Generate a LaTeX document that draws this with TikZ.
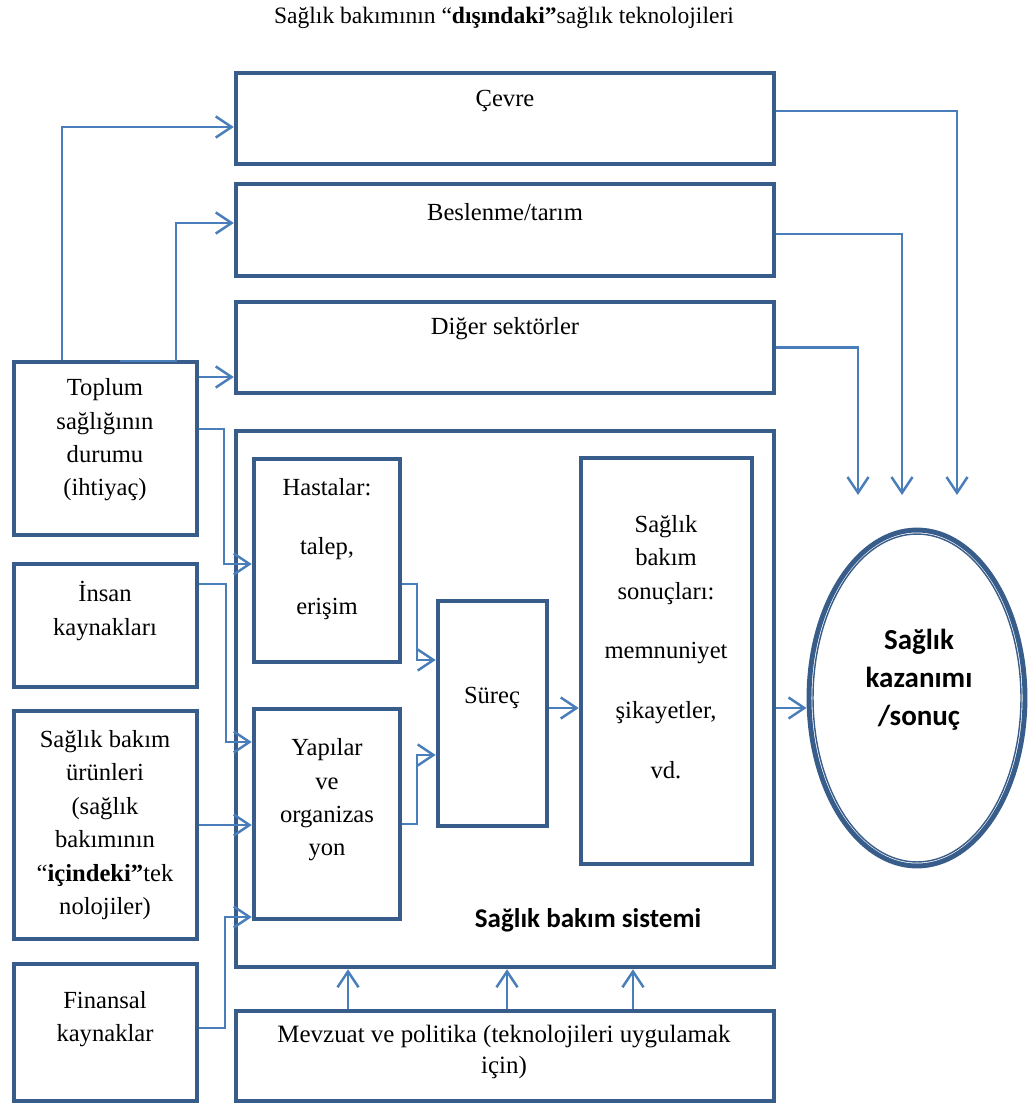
\documentclass[tikz,border=0pt]{standalone}
\usepackage{fontspec}
\setmainfont{Liberation Serif}
\newfontfamily\calibri{Carlito}
\usepackage{xcolor}
\usepackage{tikz}
\usetikzlibrary{positioning, shapes.geometric, arrows.meta}
\definecolor{boxblue}{RGB}{56,93,138}
\definecolor{lineblue}{RGB}{74,126,187}

\begin{document}
\begin{tikzpicture}[x=0.02cm, y=-0.02cm]
	\tikzstyle{box}=[rectangle, draw=boxblue, line width=2.6pt, inner sep=0pt]
	\tikzstyle{txt}=[align=center, font=\fontsize{14}{19}\selectfont, inner sep=0pt]
	\tikzstyle{conn}=[draw=lineblue, line width=1.4pt, -{Straight Barb[length=9pt,width=12pt]}]
	\useasboundingbox (0,0) rectangle (1028,1106);
	\node[txt, font=\fontsize{13.4}{15}\selectfont] (baslik) at (504,18) {Sağlık bakımının “\textbf{dışındaki”}sağlık teknolojileri};
	\node[box, minimum width=10.76cm, minimum height=1.82cm] (cevre) at (505,118.5) {};
	\node[box, minimum width=10.76cm, minimum height=1.84cm] (beslenme) at (505,230) {};
	\node[box, minimum width=10.76cm, minimum height=1.82cm] (diger) at (505,347.5) {};
	\node[box, minimum width=10.76cm, minimum height=10.72cm] (sistem) at (505,699) {};
	\node[box, minimum width=10.76cm, minimum height=1.8cm] (mevzuat) at (505,1056) {};
	\node[box, minimum width=3.66cm, minimum height=3.46cm] (toplum) at (105.5,448.5) {};
	\node[box, minimum width=3.66cm, minimum height=2.46cm] (insan) at (105.5,625.5) {};
	\node[box, minimum width=3.66cm, minimum height=4.56cm] (urunler) at (105.5,825) {};
	\node[box, minimum width=3.66cm, minimum height=2.74cm] (finansal) at (105.5,1032.5) {};
	\node[box, minimum width=2.92cm, minimum height=4.06cm] (hastalar) at (327,560.5) {};
	\node[box, minimum width=2.92cm, minimum height=4.2cm] (yapilar) at (327,814) {};
	\node[box, minimum width=2.18cm, minimum height=4.5cm] (surec) at (492.5,713.5) {};
	\node[box, minimum width=3.42cm, minimum height=8.12cm] (sonuclar) at (666.5,661) {};
	\node[ellipse, draw=boxblue, line width=2.8pt, minimum width=4.32cm, minimum height=6.72cm, inner sep=0pt] (kazanim) at (917,698) {};
	\node[ellipse, draw=boxblue, line width=0.8pt, minimum width=4.16cm, minimum height=6.56cm, inner sep=0pt] (kazanim-ic) at (917,698) {};

	\node[txt] (cevre-y) at (505,101) {Çevre};
	\node[txt] (beslenme-y) at (505,212) {Beslenme/tarım};
	\node[txt] (diger-y) at (505,329) {Diğer sektörler};
	\node[txt] (toplum-y) at (105,440) {Toplum\\sağlığının\\durumu\\(ihtiyaç)};
	\node[txt] (insan-y) at (105,611) {İnsan\\kaynakları};
	\node[txt] (urunler-y) at (105,825) {Sağlık bakım\\ürünleri\\(sağlık\\bakımının\\“\textbf{içindeki”}tek\\nolojiler)};
	\node[txt] (finansal-y) at (105,1019) {Finansal\\kaynaklar};
	\node[txt] (hastalar-y) at (327,549) {Hastalar:\\[15pt]talep,\\[15pt]erişim};
	\node[txt] (yapilar-y) at (327,800) {Yapılar\\ve\\organizas\\yon};
	\node[txt] (surec-y) at (492,698) {Süreç};
	\node[txt] (sonuclar-y) at (666,647) {Sağlık\\bakım\\sonuçları:\\[15pt]memnuniyet\\[15pt]şikayetler,\\[15pt]vd.};
	\node[txt, font=\calibri\bfseries\fontsize{15.4}{18}\selectfont] (sistem-y) at (588,920) {Sağlık bakım sistemi};
	\node[txt, font=\fontsize{14.2}{18}\selectfont] (mevzuat-y) at (504,1052) {Mevzuat ve politika (teknolojileri uygulamak\\için)};
	\node[txt, font=\calibri\bfseries\fontsize{16.5}{21.5}\selectfont] (kazanim-y) at (919,680) {Sağlık\\kazanımı\\/sonuç};

	\coordinate (c1) at (62,127);
	\coordinate (c2a) at (120,361);
	\coordinate (c2) at (176,223);
	\coordinate (c3) at (215,377);
	\coordinate (c4) at (224,564);
	\coordinate (c5) at (226,742);
	\coordinate (c6) at (225,825);
	\coordinate (c7) at (225,917);
	\coordinate (c8) at (417,660);
	\coordinate (c9) at (417,755);
	\coordinate (c10) at (560,708);
	\coordinate (e1) at (957,495);
	\coordinate (e2) at (902,495);
	\coordinate (e3) at (858,495);

	\draw[conn] (toplum.north -| c1) -- (c1) -- (cevre.west |- c1);
	\draw[conn] (c2a) -| (c2) -- (beslenme.west |- c2);
	\draw[conn] (toplum.east |- c3) -- (diger.west |- c3);
	\draw[conn] ([yshift=0.39cm]toplum.east) -| (c4) -- (hastalar.west |- c4);
	\draw[conn] ([yshift=0.83cm]insan.east) -| (c5) -- (yapilar.west |- c5);
	\draw[conn] (urunler.east |- c6) -- (yapilar.west |- c6);
	\draw[conn] ([yshift=0.09cm]finansal.east) -| (c7) -- (yapilar.west |- c7);
	\draw[conn] ([yshift=-0.47cm]hastalar.east) -| (c8) -- (surec.west |- c8);
	\draw[conn] ([yshift=-0.2cm]yapilar.east) -| (c9) -- (surec.west |- c9);
	\draw[conn] (surec.east |- c10) -- (sonuclar.west |- c10);
	\draw[conn] (sistem.east |- c10) -- (kazanim.west |- c10);
	\draw[conn] ([yshift=0.15cm]cevre.east) -| (e1);
	\draw[conn] ([yshift=-0.08cm]beslenme.east) -| (e2);
	\draw[conn] (diger.east) -| (e3);
	\foreach \dx in {-3.14,0.04,2.56}
		\draw[conn] ([xshift=\dx cm]mevzuat.north) -- ([xshift=\dx cm]sistem.south);
\end{tikzpicture}
\end{document}
